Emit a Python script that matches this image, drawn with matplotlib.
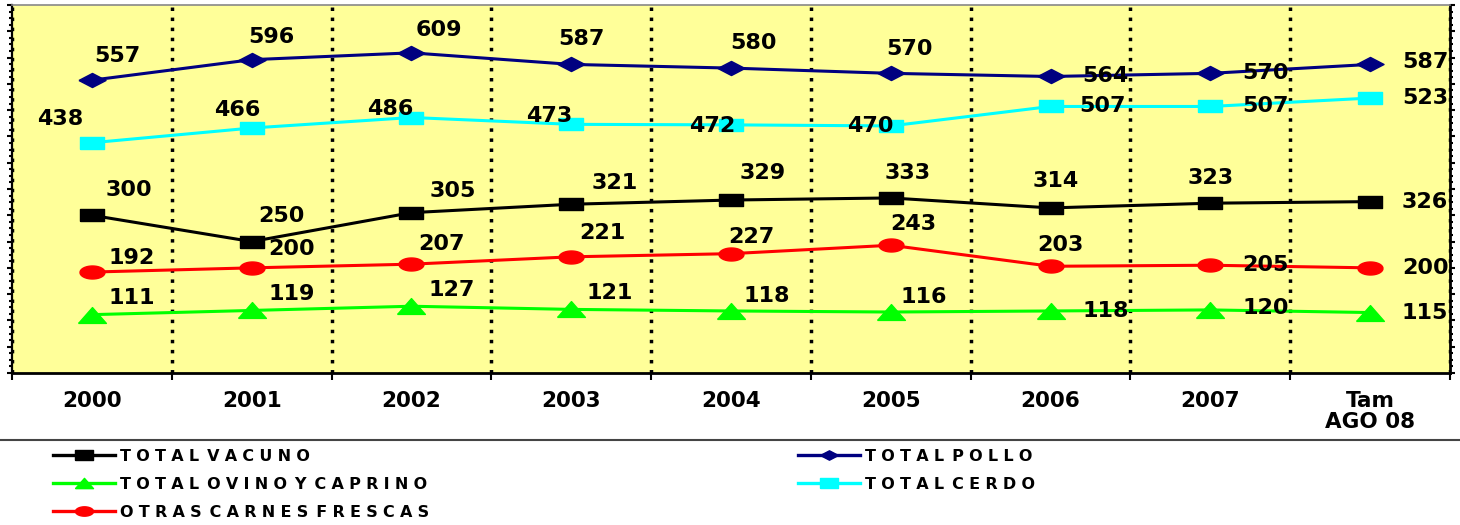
import matplotlib.pyplot as plt
import numpy as np
from matplotlib.lines import Line2D
from matplotlib.ticker import MultipleLocator, FixedLocator

# categorias del eje x
periodos = ['2000', '2001', '2002', '2003', '2004', '2005', '2006', '2007', 'Tam\nAGO 08']

# series
pollo = [557, 596, 609, 587, 580, 570, 564, 570, 587]
cerdo = [438, 466, 486, 473, 472, 470, 507, 507, 523]
vacuno = [300, 250, 305, 321, 329, 333, 314, 323, 326]
otras = [192, 200, 207, 221, 227, 243, 203, 205, 200]
ovino = [111, 119, 127, 121, 118, 116, 118, 120, 115]

# marcadores anchos (tipo excel estirado)
m_rect = [(-1, -0.5), (1, -0.5), (1, 0.5), (-1, 0.5), (-1, -0.5)]
m_diam = [(-1, 0), (0, 0.52), (1, 0), (0, -0.52), (-1, 0)]
m_tri = [(-1, -0.57), (0, 0.57), (1, -0.57), (-1, -0.57)]
t = np.linspace(0, 2 * np.pi, 40)
m_elip = list(zip(np.cos(t), 0.52 * np.sin(t)))

# desplazamiento de las etiquetas en pixeles (dx, dy)
off_pollo = [(25, 24), (20, 23), (27, 23), (10, 25), (22, 25), (19, 24), (55, 0), (55, 0), (55, 2)]
off_cerdo = [(-32, 24), (-14, 18), (-21, 9), (-22, 8), (-19, -1), (-20, 0), (52, 0), (55, 0), (55, 0)]
off_vacuno = [(37, 25), (30, 26), (41, 22), (43, 21), (32, 27), (17, 25), (5, 27), (0, 25), (55, 0)]
off_otras = [(40, 14), (40, 19), (30, 20), (31, 24), (20, 17), (23, 21), (10, 21), (55, 0), (55, 0)]
off_ovino = [(40, 17), (40, 16), (40, 16), (38, 16), (36, 15), (33, 15), (55, 0), (55, 2), (55, 0)]

series = [
    ('TOTAL VACUNO', vacuno, 'black', m_rect, 17, off_vacuno),
    ('TOTAL OVINO Y CAPRINO', ovino, '#00ff00', m_tri, 20, off_ovino),
    ('OTRAS CARNES FRESCAS', otras, 'red', m_elip, 18, off_otras),
    ('TOTAL POLLO', pollo, '#000080', m_diam, 19.5, off_pollo),
    ('TOTAL CERDO', cerdo, '#00ffff', m_rect, 17, off_cerdo),
]

fig = plt.figure(figsize=(14.6, 5.25), dpi=100)
ax = fig.add_axes([12 / 1460, 1 - 373 / 525, 1438 / 1460, 368 / 525])
ax.set_facecolor('#ffff99')

x = np.arange(len(periodos))
handles = []
for nombre, vals, col, mk, ms, offs in series:
    ax.plot(x, vals, color=col, lw=2.2, marker=mk, markersize=ms,
            markerfacecolor=col, markeredgecolor=col, zorder=3)
    for xi, v, (dx, dy) in zip(x, vals, offs):
        ax.annotate(str(v), (xi, v), xytext=(dx, dy), textcoords='offset pixels',
                    ha='center', va='center', fontsize=16, fontweight='bold',
                    family='DejaVu Sans', color='black', zorder=5)
    handles.append(Line2D([], [], color=col, lw=2.4, marker=mk, markersize=13,
                          markerfacecolor=col, markeredgecolor=col))

ax.set_xlim(-0.5, len(periodos) - 0.5)
ax.set_ylim(0, 700)

ax.set_xticks(x)
ax.set_xticklabels(periodos, fontsize=15.5, fontweight='bold', family='DejaVu Sans',
                   linespacing=1.05)
ax.xaxis.set_minor_locator(FixedLocator(np.arange(-0.5, len(periodos), 1)))
ax.tick_params(axis='x', which='major', length=0, pad=13)
ax.tick_params(axis='x', which='minor', length=5, width=1.5, direction='out')
ax.grid(which='minor', axis='x', color='black', lw=2.5, linestyle=(0, (1, 1.9)))

ax.yaxis.set_major_locator(MultipleLocator(50))
ax.yaxis.set_minor_locator(MultipleLocator(12.5))
ax.tick_params(axis='y', which='both', left=True, right=True, labelleft=False,
               direction='out', width=1.5)
ax.tick_params(axis='y', which='major', length=3.5)
ax.tick_params(axis='y', which='minor', length=2.5)

ax.spines['top'].set_color('#888888')
ax.spines['top'].set_linewidth(1.2)
ax.spines['left'].set_linewidth(1.6)
ax.spines['right'].set_linewidth(2)
ax.spines['bottom'].set_linewidth(2)

# linea separadora sobre la leyenda
fig.add_artist(Line2D([0, 1], [1 - 440 / 525] * 2, transform=fig.transFigure,
                      color='#444444', lw=1.5))


def espaciado(s):
    return '\u2002'.join('\u2004'.join(p) for p in s.split(' '))


etiquetas = [espaciado(s[0]) for s in series]
ley = dict(frameon=False, handlelength=3.9, handletextpad=0.3,
           labelspacing=0.8, borderpad=0, borderaxespad=0, loc='upper left',
           prop={'family': 'DejaVu Sans', 'weight': 'bold', 'size': 11.5})
fig.legend(handles[:3], etiquetas[:3], bbox_to_anchor=(53 / 1460, 1 - 449 / 525), **ley)
fig.legend(handles[3:], etiquetas[3:], bbox_to_anchor=(798 / 1460, 1 - 449 / 525), **ley)

fig.savefig('out.png', dpi=100)
